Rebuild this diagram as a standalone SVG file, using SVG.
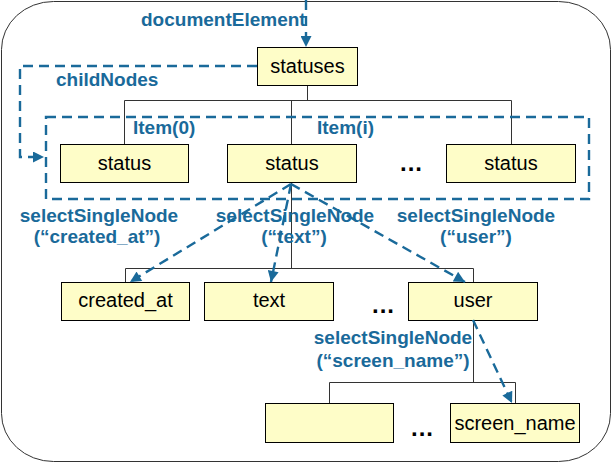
<svg xmlns="http://www.w3.org/2000/svg" width="613" height="464" viewBox="0 0 613 464">
<defs>
<marker id="ah" viewBox="0 0 10 10" refX="10" refY="5" markerWidth="12" markerHeight="11" markerUnits="userSpaceOnUse" orient="auto">
<path d="M0,0 L10,5 L0,10 z" fill="#1a6a9a"/>
</marker>
<style>
.box{fill:#fefdc8;stroke:#000;stroke-width:1}
.bt{font-family:"Liberation Sans",Arial,sans-serif;font-size:20px;fill:#000;text-anchor:middle}
.lbl{font-family:"Liberation Sans",Arial,sans-serif;font-size:19px;font-weight:bold;fill:#1a6a9a}
.tree{fill:none;stroke:#333;stroke-width:1}
.dash{fill:none;stroke:#1a6a9a;stroke-width:2.4;stroke-dasharray:10,6}
.dots{font-family:"Liberation Sans",Arial,sans-serif;font-size:24px;font-weight:bold;fill:#000;letter-spacing:1px}
</style>
</defs>
<rect x="1.5" y="1.5" width="609" height="460" rx="52" ry="48" fill="#fff" stroke="#333" stroke-width="1"/>

<g id="tree-lines" class="tree">
<path d="M307.5,85 V100.5 M124.5,100.5 H511.5 M124.5,100.5 V144 M291.5,100.5 V144 M511.5,100.5 V144"/>
<path d="M291.5,182 V268.5 M125.5,268.5 H473.5 M125.5,268.5 V282 M473.5,268.5 V282"/>
<path d="M473.5,320 V382.5 M329.5,382.5 H515.5 M329.5,382.5 V403 M515.5,382.5 V403"/>
</g>

<g id="node-statuses"><rect class="box" x="257.5" y="47.5" width="100" height="38"/><text class="bt" x="307.5" y="73">statuses</text></g>
<g id="node-status0"><rect class="box" x="60.5" y="144.5" width="128" height="38"/><text class="bt" x="124.5" y="170">status</text></g>
<g id="node-statusi"><rect class="box" x="227.5" y="144.5" width="129" height="38"/><text class="bt" x="292" y="170">status</text></g>
<g id="node-statusn"><rect class="box" x="446.5" y="144.5" width="129" height="38"/><text class="bt" x="511" y="170">status</text></g>
<g id="node-created_at"><rect class="box" x="61.5" y="282.5" width="128" height="38"/><text class="bt" x="125.5" y="307">created_at</text></g>
<g id="node-text"><rect class="box" x="204.5" y="282.5" width="129" height="38"/><text class="bt" x="269" y="307">text</text></g>
<g id="node-user"><rect class="box" x="408.5" y="282.5" width="129" height="38"/><text class="bt" x="473" y="307">user</text></g>
<g id="node-empty"><rect class="box" x="265.5" y="403.5" width="128" height="39"/></g>
<g id="node-screen_name"><rect class="box" x="450.5" y="403.5" width="129" height="39"/><text class="bt" x="515" y="430">screen_name</text></g>

<g id="connectors">
<rect class="dash" x="46" y="117" width="543" height="82"/>
<path class="dash" d="M306,0 V47" marker-end="url(#ah)"/>
<path class="dash" d="M257,66 H20 V157 H44" marker-end="url(#ah)"/>
<path class="dash" d="M291,184 L130,282" marker-end="url(#ah)"/>
<path class="dash" d="M291,184 L271,282" marker-end="url(#ah)"/>
<path class="dash" d="M291,184 L465,282" marker-end="url(#ah)"/>
<path class="dash" d="M473,320 L512,403" marker-end="url(#ah)"/>
</g>

<g id="labels">
<text class="lbl" x="141" y="26">documentElement</text>
<text class="lbl" x="56" y="86">childNodes</text>
<text class="lbl" x="133" y="134">Item(0)</text>
<text class="lbl" x="317" y="134">Item(i)</text>
<text class="lbl" text-anchor="middle" x="99" y="222">selectSingleNode</text>
<text class="lbl" text-anchor="middle" x="97" y="243">(“created_at”)</text>
<text class="lbl" text-anchor="middle" x="295" y="222">selectSingleNode</text>
<text class="lbl" text-anchor="middle" x="294" y="243">(“text”)</text>
<text class="lbl" text-anchor="middle" x="476" y="222">selectSingleNode</text>
<text class="lbl" text-anchor="middle" x="476" y="243">(“user”)</text>
<text class="lbl" text-anchor="middle" x="393" y="344">selectSingleNode</text>
<text class="lbl" text-anchor="middle" x="393" y="367">(“screen_name”)</text>
<text class="dots" x="400" y="171">...</text>
<text class="dots" x="372" y="313">...</text>
<text class="dots" x="411" y="436">...</text>
</g>
</svg>
